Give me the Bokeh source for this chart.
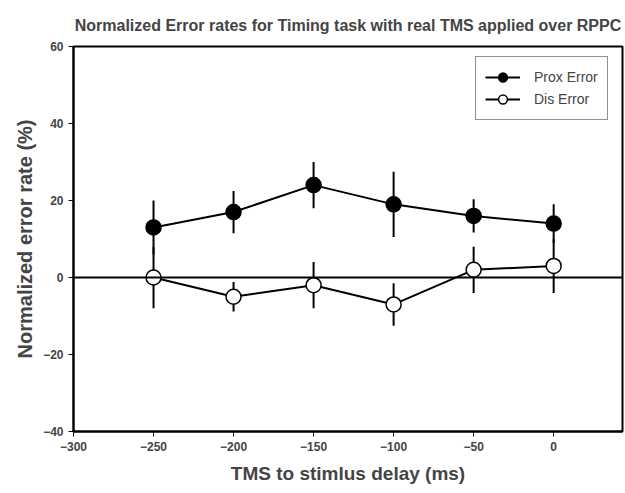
from bokeh.plotting import figure
from bokeh.models import ColumnDataSource, Span, Range1d, FixedTicker, Legend, LegendItem, Title
from bokeh.embed import file_html
from bokeh.resources import INLINE

delay = [-250, -200, -150, -100, -50, 0]
prox_mean = [13, 17, 24, 19, 16, 14]
prox_err = [7, 5.5, 6, 8.5, 4.3, 5]
dis_mean = [0, -5, -2, -7, 2, 3]
dis_err = [8, 3.8, 6, 5.5, 6, 7]
x_ticks = [-300, -250, -200, -150, -100, -50, 0]
y_ticks = [-40, -20, 0, 20, 40, 60]

FONT = "Liberation Sans"

p = figure(width=625, height=490, output_backend="svg", toolbar_location=None,
           x_range=Range1d(-300, 43), y_range=Range1d(-40, 60),
           min_border_left=73, min_border_right=3, min_border_top=46, min_border_bottom=59)

p.title.text = "Normalized Error rates for Timing task with real TMS applied over RPPC"
p.title.text_font = FONT
p.title.text_font_size = "16px"
p.title.text_font_style = "bold"
p.title.align = "center"

# empty spacer between the title and the frame
p.add_layout(Title(text=" ", text_font_size="6px", standoff=0), "above")

p.xgrid.visible = False
p.ygrid.visible = False
p.outline_line_color = "black"
p.outline_line_width = 2
p.background_fill_color = "white"

for ax in (p.xaxis[0], p.yaxis[0]):
    ax.axis_line_width = 2
    ax.major_tick_line_width = 1
    ax.major_tick_out = 5
    ax.major_tick_in = 0
    ax.minor_tick_line_color = None
    ax.major_label_text_font = FONT
    ax.major_label_text_font_style = "bold"
    ax.major_label_text_font_size = "12px"
    ax.axis_label_text_font = FONT
    ax.axis_label_text_font_style = "bold"

p.xaxis.ticker = FixedTicker(ticks=x_ticks)
p.yaxis.ticker = FixedTicker(ticks=y_ticks)
p.xaxis.axis_label = "TMS to stimlus delay (ms)"
p.xaxis.axis_label_text_font_size = "19px"
p.xaxis.axis_label_standoff = 9
p.yaxis.axis_label = "Normalized error rate (%)"
p.yaxis.axis_label_text_font_size = "20px"
p.yaxis.axis_label_standoff = 4

p.add_layout(Span(location=0, dimension="width", line_color="black", line_width=2))

prox = ColumnDataSource(dict(x=delay, y=prox_mean,
                             lo=[m - e for m, e in zip(prox_mean, prox_err)],
                             hi=[m + e for m, e in zip(prox_mean, prox_err)]))
dis = ColumnDataSource(dict(x=delay, y=dis_mean,
                            lo=[m - e for m, e in zip(dis_mean, dis_err)],
                            hi=[m + e for m, e in zip(dis_mean, dis_err)]))

p.segment(x0="x", y0="lo", x1="x", y1="hi", source=prox, line_color="black", line_width=2)
p.segment(x0="x", y0="lo", x1="x", y1="hi", source=dis, line_color="black", line_width=2)

l1 = p.line("x", "y", source=prox, line_color="black", line_width=2)
s1 = p.scatter("x", "y", source=prox, size=15, fill_color="black", line_color="black", line_width=1.5)
l2 = p.line("x", "y", source=dis, line_color="black", line_width=2)
s2 = p.scatter("x", "y", source=dis, size=15, fill_color="white", line_color="black", line_width=1.5)

legend = Legend(items=[LegendItem(label="Prox Error", renderers=[l1, s1]),
                       LegendItem(label="Dis Error", renderers=[l2, s2])],
                location=(402, 311))
legend.border_line_color = "#222222"
legend.border_line_width = 1.5
legend.label_text_font = FONT
legend.label_text_font_size = "14px"
legend.glyph_width = 35
legend.glyph_height = 22
legend.label_height = 22
legend.spacing = 0
legend.padding = 9
legend.margin = 0
legend.label_standoff = 14
legend.background_fill_alpha = 1
p.add_layout(legend)

open("out.html", "w").write(file_html(p, INLINE))
